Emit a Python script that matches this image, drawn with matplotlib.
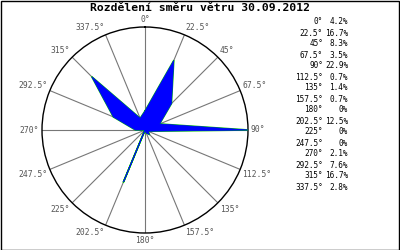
import numpy as np
import matplotlib
matplotlib.use("Agg")
import matplotlib.pyplot as plt
from matplotlib.patches import Rectangle

# wind direction distribution (degrees -> percent of the day)
directions = [0, 22.5, 45, 67.5, 90, 112.5, 135, 157.5,
              180, 202.5, 225, 247.5, 270, 292.5, 315, 337.5]
percent = [4.2, 16.7, 8.3, 3.5, 22.9, 0.7, 1.4, 0.7,
           0, 12.5, 0, 0, 2.1, 7.6, 16.7, 2.8]
dir_labels = ["0°", "22.5°", "45°", "67.5°", "90°", "112.5°", "135°", "157.5°",
              "180°", "202.5°", "225°", "247.5°", "270°", "292.5°", "315°", "337.5°"]
title = "Rozdělení směru větru 30.09.2012"

mono = "DejaVu Sans Mono"

fig = plt.figure(figsize=(4, 2.5), dpi=100)
fig.patch.set_facecolor("white")

# circle centre ~ (145, 130) px, radius ~103 px
cx, cy, rad = 145, 130, 103
ax = fig.add_axes([(cx - rad) / 400, (250 - cy - rad) / 250, 2 * rad / 400, 2 * rad / 250],
                  projection="polar")
ax.set_theta_zero_location("N")
ax.set_theta_direction(-1)
rmax = max(percent)
ax.set_ylim(0, rmax)

theta = np.deg2rad(directions)
ax.set_xticks(theta)
ax.set_xticklabels([])
ax.set_yticks([])
ax.grid(True, axis="x", color="#777777", linewidth=0.8)
ax.spines["polar"].set_color("black")
ax.spines["polar"].set_linewidth(1.0)

# rose polygon
th = np.append(theta, theta[0])
pc = np.append(percent, percent[0])
ax.plot(th, pc, color="#00c000", linewidth=1.2, zorder=3)
ax.fill(th, pc, facecolor="#0000ff", edgecolor="#0000ff", linewidth=0.5, zorder=4)

# direction labels around the circle
for t, lab in zip(theta, dir_labels):
    s, c = np.sin(t), np.cos(t)
    ha = "left" if s > 0.1 else ("right" if s < -0.1 else "center")
    va = "bottom" if c > 0.1 else ("top" if c < -0.1 else "center")
    ax.text(t, rmax * 1.025, lab, ha=ha, va=va, fontsize=5.8, family=mono,
            color="#555555", clip_on=False)

fig.text(0.5, 1 - 8 / 250, title, ha="center", va="center", fontsize=8.2,
         family=mono, fontweight="bold")

# legend table on the right
y0 = 22
for i, (lab, p) in enumerate(zip(dir_labels, percent)):
    y = 1 - (y0 + 11 * i) / 250
    fig.text(323 / 400, y, lab, ha="right", va="center", fontsize=5.6, family=mono)
    fig.text(348 / 400, y, ("%g%%" % p) if p == 0 else ("%.1f%%" % p),
             ha="right", va="center", fontsize=5.6, family=mono)

fig.patches.append(Rectangle((0.5 / 400, 0.5 / 250), 398.5 / 400, 248.5 / 250,
                             transform=fig.transFigure, fill=False,
                             edgecolor="black", linewidth=1.0))

fig.savefig("out.png", dpi=100)
